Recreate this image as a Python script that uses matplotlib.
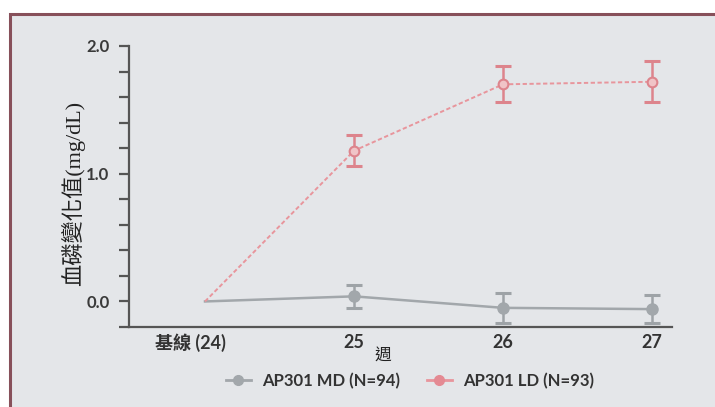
import matplotlib
matplotlib.use("Agg")
import matplotlib.pyplot as plt
import matplotlib.transforms as mtransforms
from matplotlib.patches import Rectangle
from matplotlib.lines import Line2D

weeks = [24, 25, 26, 27]
tick_labels = ["基線 (24)", "25", "26", "27"]
md_values = [0.0, 0.04, -0.05, -0.06]
md_err = [0.0, 0.09, 0.12, 0.11]
ld_values = [0.0, 1.18, 1.70, 1.72]
ld_err = [0.0, 0.12, 0.14, 0.16]
md_label = "AP301 MD (N=94)"
ld_label = "AP301 LD (N=93)"
y_label = "血磷變化值(mg/dL)"
x_label = "週"

W, H = 715, 407
fig = plt.figure(figsize=(W / 100, H / 100), dpi=100, facecolor="white")

bg = "#e4e6e9"
fig.patches.append(Rectangle((10 / W, -0.05), 1.1, 1 - 14 / H + 0.05,
                             transform=fig.transFigure, facecolor=bg,
                             edgecolor="#87505a", linewidth=2.2, zorder=-10))

ax = fig.add_axes([129 / W, 1 - 327 / H, (672 - 129) / W, (327 - 46) / H])
ax.set_facecolor("none")
ax.set_zorder(5)

gray = "#a2a7ab"
pink = "#e8959c"
pink_dark = "#dd848c"
num_font = ["Lato", "Noto Sans CJK TC"]

# MD series
ax.plot(weeks, md_values, color=gray, lw=1.8, zorder=3)
ax.plot(weeks[1:], md_values[1:], 'o', color=gray, ms=8, zorder=4)
ax.errorbar(weeks[1:], md_values[1:], yerr=md_err[1:], fmt='none',
            ecolor="#9ea3a7", elinewidth=1.8, capsize=6, capthick=2.2, zorder=3)

# LD series
ax.plot(weeks, ld_values, color=pink, lw=1.4, ls=(0, (2.2, 1.3)), zorder=3)
ax.plot(weeks[1:], ld_values[1:], 'o', mfc="#f0c4c7", mec=pink_dark, mew=1.5,
        ms=7, zorder=4)
ax.errorbar(weeks[1:], ld_values[1:], yerr=ld_err[1:], fmt='none',
            ecolor=pink_dark, elinewidth=1.8, capsize=6, capthick=2.2, zorder=3)

ax.set_xlim(23.49, 27.134)
ax.set_ylim(-0.2, 2.0)

yt = [round(-0.2 + 0.2 * i, 1) for i in range(12)]
ax.set_yticks(yt)
ax.set_yticklabels([f"{v:.1f}" if abs(v - round(v)) < 1e-9 else "" for v in yt],
                   fontsize=12, fontweight="bold", color="#3a3a3a",
                   family=num_font)
ax.tick_params(axis="y", length=7, width=1.6, color="#555555", pad=7)

ax.set_xticks(weeks)
ax.set_xticklabels(tick_labels, fontsize=13, fontweight="bold", color="#333333",
                   family=num_font)
ax.tick_params(axis="x", length=0, pad=5)
first = ax.get_xticklabels()[0]
first.set_transform(first.get_transform() +
                    mtransforms.ScaledTranslation(-15 / 100, 0, fig.dpi_scale_trans))

for s in ["top", "right"]:
    ax.spines[s].set_visible(False)
ax.spines["left"].set_color("#555555")
ax.spines["left"].set_linewidth(1.6)
ax.spines["bottom"].set_color("#555555")
ax.spines["bottom"].set_linewidth(1.6)

fig.text(73 / W, 1 - 193 / H, y_label, rotation=90, ha="center", va="center",
         fontsize=16, color="#222222",
         family=["Liberation Serif", "Noto Sans CJK TC"])
fig.text(383 / W, 1 - 355 / H, x_label, ha="center", va="center",
         fontsize=12, color="#222222", family=["Noto Sans CJK TC"])

handles = [
    Line2D([], [], color=gray, lw=2, marker='o', ms=7, mfc=gray, mec=gray),
    Line2D([], [], color=pink, lw=2, marker='o', ms=7, mfc="#e48a93", mec="#e48a93"),
]
leg = fig.legend(handles, [md_label, ld_label], loc="center",
                 bbox_to_anchor=(410 / W, 1 - 381 / H), ncol=2, frameon=False,
                 handlelength=1.5, columnspacing=1.6, handletextpad=0.7,
                 prop={"family": num_font, "size": 12, "weight": "bold"})
for t in leg.get_texts():
    t.set_color("#333333")

fig.savefig("out.png", dpi=100, facecolor=fig.get_facecolor())
